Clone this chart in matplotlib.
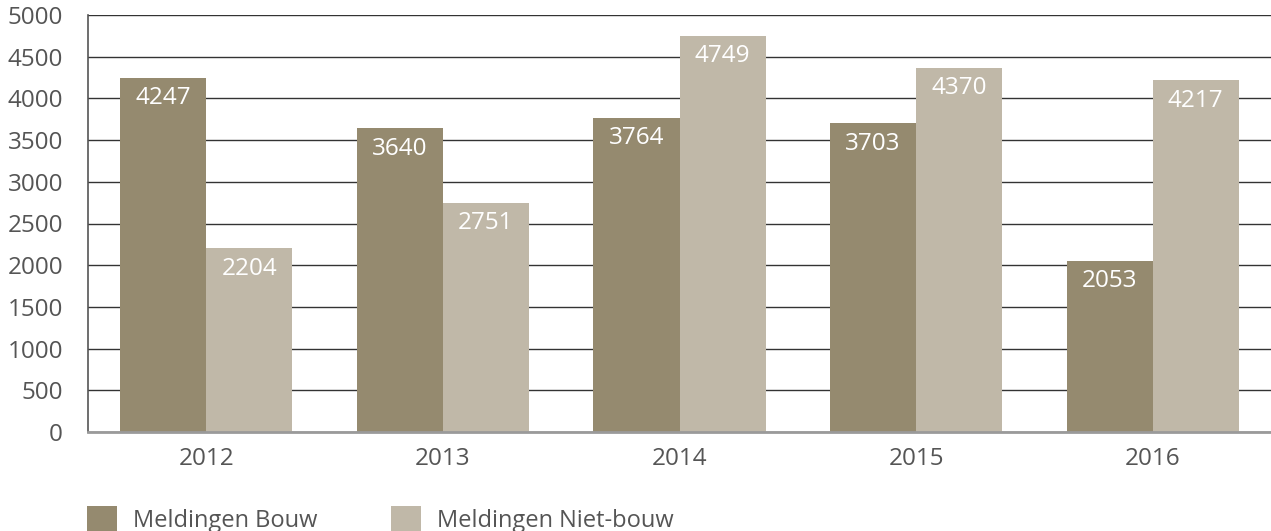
import matplotlib.pyplot as plt
import numpy as np

plt.rcParams['font.family'] = ['Open Sans', 'DejaVu Sans']

years = ['2012', '2013', '2014', '2015', '2016']
bouw = [4247, 3640, 3764, 3703, 2053]
niet_bouw = [2204, 2751, 4749, 4370, 4217]

dark = '#958a6f'
light = '#c0b8a8'
text_col = '#555555'

fig = plt.figure(figsize=(12.71, 5.31), dpi=100)
ax = fig.add_axes([88 / 1271, 1 - 432 / 531, 1 - 88 / 1271, 417 / 531])

x = np.arange(len(years))
width = 0.364
b1 = ax.bar(x - width / 2, bouw, width, color=dark, zorder=3, label='Meldingen Bouw')
b2 = ax.bar(x + width / 2, niet_bouw, width, color=light, zorder=3, label='Meldingen Niet-bouw')

# value labels inside top of bars
for bars in (b1, b2):
    for bar in bars:
        h = bar.get_height()
        ax.annotate(f'{h:.0f}', (bar.get_x() + bar.get_width() / 2, h),
                    xytext=(0, -6), textcoords='offset points',
                    ha='center', va='top', color='white', fontsize=17.5, zorder=4)

ax.set_xlim(-0.5, len(years) - 0.5)
ax.set_ylim(0, 5000)
ax.set_yticks(np.arange(0, 5001, 500))
ax.set_xticks(x)
ax.set_xticklabels(years)
ax.tick_params(axis='both', length=0, labelsize=17.5, labelcolor=text_col)
ax.tick_params(axis='y', pad=18)
ax.tick_params(axis='x', pad=11)

ax.yaxis.grid(True, color='#333333', linewidth=1, zorder=0)
ax.set_axisbelow(True)
for s in ('top', 'right'):
    ax.spines[s].set_visible(False)
ax.spines['left'].set_color('#555555')
ax.spines['left'].set_linewidth(1.2)
ax.spines['bottom'].set_color('#9a9a9a')
ax.spines['bottom'].set_linewidth(2)
ax.spines['bottom'].set_zorder(5)

fig.legend(handles=[b1, b2], loc='upper left',
           bbox_to_anchor=(87 / 1271, 1 - 506 / 531), ncol=2, frameon=False,
           fontsize=17, labelcolor=text_col, handlelength=1.27, handleheight=1.27,
           handletextpad=0.68, columnspacing=3.1, borderaxespad=0, borderpad=0)

fig.savefig('out.png', dpi=100)
